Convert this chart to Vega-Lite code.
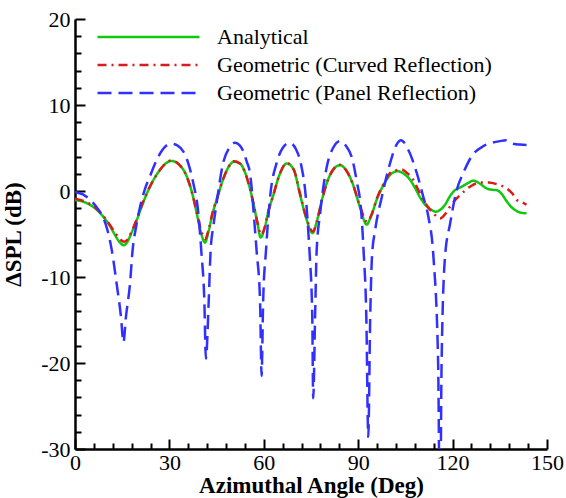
{
  "$schema": "https://vega.github.io/schema/vega-lite/v6.json",
  "width": 472,
  "height": 430,
  "autosize": {"type": "none"},
  "padding": {"left": 75, "top": 19, "right": 19, "bottom": 49},
  "background": "white",
  "config": {
    "view": {"stroke": null},
    "font": "Liberation Serif",
    "axis": {
      "grid": false,
      "domainColor": "black",
      "domainWidth": 2.5,
      "labelFont": "Liberation Serif",
      "labelFontSize": 22,
      "labelColor": "black",
      "titleFont": "Liberation Serif",
      "titleFontSize": 23,
      "titleFontWeight": "bold",
      "titleColor": "black"
    },
    "legend": {
      "labelFont": "Liberation Serif",
      "labelFontSize": 22,
      "labelColor": "black",
      "labelLimit": 0
    }
  },
  "resolve": {"axis": {"x": "independent", "y": "independent"}},
  "layer": [
    {
      "data": {
        "values": [
          {"model": "Analytical", "angle": 0, "dspl": -1.05},
          {"model": "Analytical", "angle": 3, "dspl": -1.3},
          {"model": "Analytical", "angle": 6, "dspl": -1.9},
          {"model": "Analytical", "angle": 9, "dspl": -3.0},
          {"model": "Analytical", "angle": 11, "dspl": -4.0},
          {"model": "Analytical", "angle": 13, "dspl": -5.3},
          {"model": "Analytical", "angle": 14.3, "dspl": -6.0},
          {"model": "Analytical", "angle": 15.4, "dspl": -6.3},
          {"model": "Analytical", "angle": 16.5, "dspl": -6.0},
          {"model": "Analytical", "angle": 17.8, "dspl": -5.0},
          {"model": "Analytical", "angle": 19.6, "dspl": -3.4},
          {"model": "Analytical", "angle": 21.5, "dspl": -1.5},
          {"model": "Analytical", "angle": 23.8, "dspl": 0.5},
          {"model": "Analytical", "angle": 26.5, "dspl": 2.2},
          {"model": "Analytical", "angle": 28.5, "dspl": 3.1},
          {"model": "Analytical", "angle": 30.7, "dspl": 3.5},
          {"model": "Analytical", "angle": 33, "dspl": 3.1},
          {"model": "Analytical", "angle": 35.5, "dspl": 1.7},
          {"model": "Analytical", "angle": 37.2, "dspl": -0.2},
          {"model": "Analytical", "angle": 38.7, "dspl": -2.6},
          {"model": "Analytical", "angle": 40, "dspl": -4.8},
          {"model": "Analytical", "angle": 41.3, "dspl": -6.0},
          {"model": "Analytical", "angle": 42.5, "dspl": -4.6},
          {"model": "Analytical", "angle": 43.8, "dspl": -2.5},
          {"model": "Analytical", "angle": 45, "dspl": -1.05},
          {"model": "Analytical", "angle": 47, "dspl": 1.3},
          {"model": "Analytical", "angle": 48.8, "dspl": 2.8},
          {"model": "Analytical", "angle": 50.5, "dspl": 3.4},
          {"model": "Analytical", "angle": 52.4, "dspl": 3.2},
          {"model": "Analytical", "angle": 54, "dspl": 2.2},
          {"model": "Analytical", "angle": 55.3, "dspl": 0.7},
          {"model": "Analytical", "angle": 56.8, "dspl": -1.6},
          {"model": "Analytical", "angle": 58, "dspl": -3.8},
          {"model": "Analytical", "angle": 59, "dspl": -5.4},
          {"model": "Analytical", "angle": 60.2, "dspl": -4.4},
          {"model": "Analytical", "angle": 61.5, "dspl": -2.3},
          {"model": "Analytical", "angle": 63, "dspl": -0.5},
          {"model": "Analytical", "angle": 65, "dspl": 1.9},
          {"model": "Analytical", "angle": 67.3, "dspl": 3.2},
          {"model": "Analytical", "angle": 69.5, "dspl": 2.5},
          {"model": "Analytical", "angle": 71.5, "dspl": -0.4},
          {"model": "Analytical", "angle": 73.5, "dspl": -3.2},
          {"model": "Analytical", "angle": 75.5, "dspl": -4.9},
          {"model": "Analytical", "angle": 76.8, "dspl": -3.6},
          {"model": "Analytical", "angle": 78.5, "dspl": -1.0},
          {"model": "Analytical", "angle": 80.5, "dspl": 1.4},
          {"model": "Analytical", "angle": 82.3, "dspl": 2.6},
          {"model": "Analytical", "angle": 84.2, "dspl": 3.0},
          {"model": "Analytical", "angle": 86, "dspl": 2.5},
          {"model": "Analytical", "angle": 88.3, "dspl": 0.8},
          {"model": "Analytical", "angle": 90.5, "dspl": -1.8},
          {"model": "Analytical", "angle": 92.7, "dspl": -3.9},
          {"model": "Analytical", "angle": 94, "dspl": -3.0},
          {"model": "Analytical", "angle": 96, "dspl": -0.9},
          {"model": "Analytical", "angle": 98.5, "dspl": 1.0},
          {"model": "Analytical", "angle": 100.5, "dspl": 2.0},
          {"model": "Analytical", "angle": 102.6, "dspl": 2.3},
          {"model": "Analytical", "angle": 104.5, "dspl": 2.0},
          {"model": "Analytical", "angle": 106.5, "dspl": 1.3},
          {"model": "Analytical", "angle": 108, "dspl": 0.4},
          {"model": "Analytical", "angle": 109.6, "dspl": -0.7},
          {"model": "Analytical", "angle": 111.8, "dspl": -1.8},
          {"model": "Analytical", "angle": 113.3, "dspl": -2.2},
          {"model": "Analytical", "angle": 114.7, "dspl": -2.4},
          {"model": "Analytical", "angle": 116, "dspl": -2.2},
          {"model": "Analytical", "angle": 117.6, "dspl": -1.6},
          {"model": "Analytical", "angle": 119, "dspl": -0.7},
          {"model": "Analytical", "angle": 120.2, "dspl": -0.1},
          {"model": "Analytical", "angle": 122.9, "dspl": 0.5},
          {"model": "Analytical", "angle": 124.8, "dspl": 0.9},
          {"model": "Analytical", "angle": 126.6, "dspl": 1.2},
          {"model": "Analytical", "angle": 128.5, "dspl": 0.9},
          {"model": "Analytical", "angle": 130.8, "dspl": 0.3},
          {"model": "Analytical", "angle": 132.5, "dspl": 0.15},
          {"model": "Analytical", "angle": 134, "dspl": 0.1},
          {"model": "Analytical", "angle": 135.5, "dspl": -0.3},
          {"model": "Analytical", "angle": 137.2, "dspl": -1.2},
          {"model": "Analytical", "angle": 138.5, "dspl": -1.8},
          {"model": "Analytical", "angle": 139.8, "dspl": -2.2},
          {"model": "Analytical", "angle": 141.5, "dspl": -2.5},
          {"model": "Analytical", "angle": 143.5, "dspl": -2.6},

          {"model": "Geometric (Curved Reflection)", "angle": 0, "dspl": -0.9},
          {"model": "Geometric (Curved Reflection)", "angle": 3, "dspl": -1.2},
          {"model": "Geometric (Curved Reflection)", "angle": 6, "dspl": -1.8},
          {"model": "Geometric (Curved Reflection)", "angle": 9, "dspl": -2.9},
          {"model": "Geometric (Curved Reflection)", "angle": 11, "dspl": -3.9},
          {"model": "Geometric (Curved Reflection)", "angle": 13, "dspl": -5.0},
          {"model": "Geometric (Curved Reflection)", "angle": 14.3, "dspl": -5.6},
          {"model": "Geometric (Curved Reflection)", "angle": 15.6, "dspl": -5.9},
          {"model": "Geometric (Curved Reflection)", "angle": 16.8, "dspl": -5.6},
          {"model": "Geometric (Curved Reflection)", "angle": 18, "dspl": -4.7},
          {"model": "Geometric (Curved Reflection)", "angle": 19.6, "dspl": -3.3},
          {"model": "Geometric (Curved Reflection)", "angle": 21.5, "dspl": -1.4},
          {"model": "Geometric (Curved Reflection)", "angle": 23.8, "dspl": 0.5},
          {"model": "Geometric (Curved Reflection)", "angle": 26.5, "dspl": 2.2},
          {"model": "Geometric (Curved Reflection)", "angle": 28.5, "dspl": 3.1},
          {"model": "Geometric (Curved Reflection)", "angle": 30.7, "dspl": 3.55},
          {"model": "Geometric (Curved Reflection)", "angle": 33, "dspl": 3.1},
          {"model": "Geometric (Curved Reflection)", "angle": 35.5, "dspl": 1.7},
          {"model": "Geometric (Curved Reflection)", "angle": 37.2, "dspl": -0.2},
          {"model": "Geometric (Curved Reflection)", "angle": 38.7, "dspl": -2.5},
          {"model": "Geometric (Curved Reflection)", "angle": 40, "dspl": -4.5},
          {"model": "Geometric (Curved Reflection)", "angle": 41.4, "dspl": -5.6},
          {"model": "Geometric (Curved Reflection)", "angle": 42.5, "dspl": -4.4},
          {"model": "Geometric (Curved Reflection)", "angle": 43.8, "dspl": -2.4},
          {"model": "Geometric (Curved Reflection)", "angle": 45, "dspl": -1.0},
          {"model": "Geometric (Curved Reflection)", "angle": 47, "dspl": 1.3},
          {"model": "Geometric (Curved Reflection)", "angle": 48.8, "dspl": 2.8},
          {"model": "Geometric (Curved Reflection)", "angle": 50.5, "dspl": 3.45},
          {"model": "Geometric (Curved Reflection)", "angle": 52.4, "dspl": 3.2},
          {"model": "Geometric (Curved Reflection)", "angle": 54, "dspl": 2.2},
          {"model": "Geometric (Curved Reflection)", "angle": 55.3, "dspl": 0.7},
          {"model": "Geometric (Curved Reflection)", "angle": 56.8, "dspl": -1.6},
          {"model": "Geometric (Curved Reflection)", "angle": 58, "dspl": -3.7},
          {"model": "Geometric (Curved Reflection)", "angle": 59.2, "dspl": -5.1},
          {"model": "Geometric (Curved Reflection)", "angle": 60.3, "dspl": -4.2},
          {"model": "Geometric (Curved Reflection)", "angle": 61.5, "dspl": -2.3},
          {"model": "Geometric (Curved Reflection)", "angle": 63, "dspl": -0.5},
          {"model": "Geometric (Curved Reflection)", "angle": 65, "dspl": 1.9},
          {"model": "Geometric (Curved Reflection)", "angle": 67.3, "dspl": 3.25},
          {"model": "Geometric (Curved Reflection)", "angle": 69.5, "dspl": 2.5},
          {"model": "Geometric (Curved Reflection)", "angle": 71.5, "dspl": -0.3},
          {"model": "Geometric (Curved Reflection)", "angle": 73.5, "dspl": -3.1},
          {"model": "Geometric (Curved Reflection)", "angle": 75.6, "dspl": -4.7},
          {"model": "Geometric (Curved Reflection)", "angle": 76.9, "dspl": -3.5},
          {"model": "Geometric (Curved Reflection)", "angle": 78.5, "dspl": -1.0},
          {"model": "Geometric (Curved Reflection)", "angle": 80.5, "dspl": 1.4},
          {"model": "Geometric (Curved Reflection)", "angle": 82.3, "dspl": 2.6},
          {"model": "Geometric (Curved Reflection)", "angle": 84.2, "dspl": 3.05},
          {"model": "Geometric (Curved Reflection)", "angle": 86, "dspl": 2.5},
          {"model": "Geometric (Curved Reflection)", "angle": 88.3, "dspl": 0.8},
          {"model": "Geometric (Curved Reflection)", "angle": 90.5, "dspl": -1.7},
          {"model": "Geometric (Curved Reflection)", "angle": 92.9, "dspl": -3.6},
          {"model": "Geometric (Curved Reflection)", "angle": 94.2, "dspl": -2.8},
          {"model": "Geometric (Curved Reflection)", "angle": 96, "dspl": -0.8},
          {"model": "Geometric (Curved Reflection)", "angle": 98.5, "dspl": 1.1},
          {"model": "Geometric (Curved Reflection)", "angle": 100.5, "dspl": 2.2},
          {"model": "Geometric (Curved Reflection)", "angle": 103.8, "dspl": 2.5},
          {"model": "Geometric (Curved Reflection)", "angle": 105.5, "dspl": 2.1},
          {"model": "Geometric (Curved Reflection)", "angle": 107.5, "dspl": 1.3},
          {"model": "Geometric (Curved Reflection)", "angle": 109, "dspl": 0.2},
          {"model": "Geometric (Curved Reflection)", "angle": 110.7, "dspl": -1.05},
          {"model": "Geometric (Curved Reflection)", "angle": 112.5, "dspl": -2.0},
          {"model": "Geometric (Curved Reflection)", "angle": 113.9, "dspl": -2.6},
          {"model": "Geometric (Curved Reflection)", "angle": 116, "dspl": -3.2},
          {"model": "Geometric (Curved Reflection)", "angle": 117.6, "dspl": -2.7},
          {"model": "Geometric (Curved Reflection)", "angle": 119.2, "dspl": -1.8},
          {"model": "Geometric (Curved Reflection)", "angle": 120.7, "dspl": -1.1},
          {"model": "Geometric (Curved Reflection)", "angle": 122.3, "dspl": -0.5},
          {"model": "Geometric (Curved Reflection)", "angle": 125.5, "dspl": 0.5},
          {"model": "Geometric (Curved Reflection)", "angle": 128.7, "dspl": 1.0},
          {"model": "Geometric (Curved Reflection)", "angle": 131.5, "dspl": 1.0},
          {"model": "Geometric (Curved Reflection)", "angle": 134, "dspl": 0.8},
          {"model": "Geometric (Curved Reflection)", "angle": 137.2, "dspl": 0.3},
          {"model": "Geometric (Curved Reflection)", "angle": 139, "dspl": -0.3},
          {"model": "Geometric (Curved Reflection)", "angle": 140.4, "dspl": -1.05},
          {"model": "Geometric (Curved Reflection)", "angle": 142, "dspl": -1.3},
          {"model": "Geometric (Curved Reflection)", "angle": 143.5, "dspl": -1.6},

          {"model": "Geometric (Panel Reflection)", "angle": 0, "dspl": -0.1},
          {"model": "Geometric (Panel Reflection)", "angle": 2.5, "dspl": -0.4},
          {"model": "Geometric (Panel Reflection)", "angle": 5.3, "dspl": -1.2},
          {"model": "Geometric (Panel Reflection)", "angle": 7.5, "dspl": -2.2},
          {"model": "Geometric (Panel Reflection)", "angle": 9, "dspl": -3.1},
          {"model": "Geometric (Panel Reflection)", "angle": 10.5, "dspl": -4.8},
          {"model": "Geometric (Panel Reflection)", "angle": 11.7, "dspl": -6.9},
          {"model": "Geometric (Panel Reflection)", "angle": 13.2, "dspl": -10.7},
          {"model": "Geometric (Panel Reflection)", "angle": 14.6, "dspl": -14.6},
          {"model": "Geometric (Panel Reflection)", "angle": 15.4, "dspl": -17.6},
          {"model": "Geometric (Panel Reflection)", "angle": 16.2, "dspl": -14.6},
          {"model": "Geometric (Panel Reflection)", "angle": 17.5, "dspl": -10.7},
          {"model": "Geometric (Panel Reflection)", "angle": 18.3, "dspl": -6.9},
          {"model": "Geometric (Panel Reflection)", "angle": 19.5, "dspl": -4.0},
          {"model": "Geometric (Panel Reflection)", "angle": 20.7, "dspl": -1.8},
          {"model": "Geometric (Panel Reflection)", "angle": 22.2, "dspl": 0.2},
          {"model": "Geometric (Panel Reflection)", "angle": 23.8, "dspl": 1.7},
          {"model": "Geometric (Panel Reflection)", "angle": 26.5, "dspl": 4.0},
          {"model": "Geometric (Panel Reflection)", "angle": 28.5, "dspl": 5.1},
          {"model": "Geometric (Panel Reflection)", "angle": 30.5, "dspl": 5.5},
          {"model": "Geometric (Panel Reflection)", "angle": 32.5, "dspl": 5.3},
          {"model": "Geometric (Panel Reflection)", "angle": 35, "dspl": 4.2},
          {"model": "Geometric (Panel Reflection)", "angle": 36.5, "dspl": 2.6},
          {"model": "Geometric (Panel Reflection)", "angle": 37.6, "dspl": 0.9},
          {"model": "Geometric (Panel Reflection)", "angle": 39.2, "dspl": -2.6},
          {"model": "Geometric (Panel Reflection)", "angle": 40.2, "dspl": -7.3},
          {"model": "Geometric (Panel Reflection)", "angle": 41.1, "dspl": -12.7},
          {"model": "Geometric (Panel Reflection)", "angle": 41.6, "dspl": -19.5},
          {"model": "Geometric (Panel Reflection)", "angle": 42.5, "dspl": -12.7},
          {"model": "Geometric (Panel Reflection)", "angle": 43.1, "dspl": -6.9},
          {"model": "Geometric (Panel Reflection)", "angle": 44, "dspl": -4.0},
          {"model": "Geometric (Panel Reflection)", "angle": 45, "dspl": -1.4},
          {"model": "Geometric (Panel Reflection)", "angle": 47.1, "dspl": 3.3},
          {"model": "Geometric (Panel Reflection)", "angle": 49, "dspl": 5.0},
          {"model": "Geometric (Panel Reflection)", "angle": 50.8, "dspl": 5.6},
          {"model": "Geometric (Panel Reflection)", "angle": 52.8, "dspl": 5.1},
          {"model": "Geometric (Panel Reflection)", "angle": 54.6, "dspl": 3.4},
          {"model": "Geometric (Panel Reflection)", "angle": 55.6, "dspl": 2.1},
          {"model": "Geometric (Panel Reflection)", "angle": 57.2, "dspl": -4.5},
          {"model": "Geometric (Panel Reflection)", "angle": 57.7, "dspl": -6.9},
          {"model": "Geometric (Panel Reflection)", "angle": 58.8, "dspl": -12.7},
          {"model": "Geometric (Panel Reflection)", "angle": 59.3, "dspl": -21.5},
          {"model": "Geometric (Panel Reflection)", "angle": 59.8, "dspl": -12.7},
          {"model": "Geometric (Panel Reflection)", "angle": 60.7, "dspl": -6.9},
          {"model": "Geometric (Panel Reflection)", "angle": 62, "dspl": -0.7},
          {"model": "Geometric (Panel Reflection)", "angle": 64.1, "dspl": 3.3},
          {"model": "Geometric (Panel Reflection)", "angle": 66, "dspl": 5.0},
          {"model": "Geometric (Panel Reflection)", "angle": 68.2, "dspl": 5.6},
          {"model": "Geometric (Panel Reflection)", "angle": 70.3, "dspl": 4.8},
          {"model": "Geometric (Panel Reflection)", "angle": 72, "dspl": 2.8},
          {"model": "Geometric (Panel Reflection)", "angle": 73.3, "dspl": -0.5},
          {"model": "Geometric (Panel Reflection)", "angle": 74.1, "dspl": -4.5},
          {"model": "Geometric (Panel Reflection)", "angle": 74.6, "dspl": -7.5},
          {"model": "Geometric (Panel Reflection)", "angle": 75.4, "dspl": -14.6},
          {"model": "Geometric (Panel Reflection)", "angle": 75.7, "dspl": -24.1},
          {"model": "Geometric (Panel Reflection)", "angle": 76.3, "dspl": -14.6},
          {"model": "Geometric (Panel Reflection)", "angle": 76.8, "dspl": -6.9},
          {"model": "Geometric (Panel Reflection)", "angle": 77.9, "dspl": -2.6},
          {"model": "Geometric (Panel Reflection)", "angle": 80, "dspl": 2.8},
          {"model": "Geometric (Panel Reflection)", "angle": 82, "dspl": 5.0},
          {"model": "Geometric (Panel Reflection)", "angle": 84.2, "dspl": 5.8},
          {"model": "Geometric (Panel Reflection)", "angle": 86.2, "dspl": 5.2},
          {"model": "Geometric (Panel Reflection)", "angle": 87.9, "dspl": 4.0},
          {"model": "Geometric (Panel Reflection)", "angle": 89.5, "dspl": 1.2},
          {"model": "Geometric (Panel Reflection)", "angle": 91.0, "dspl": -2.6},
          {"model": "Geometric (Panel Reflection)", "angle": 91.7, "dspl": -6.9},
          {"model": "Geometric (Panel Reflection)", "angle": 92.6, "dspl": -15},
          {"model": "Geometric (Panel Reflection)", "angle": 93.2, "dspl": -28.6},
          {"model": "Geometric (Panel Reflection)", "angle": 93.8, "dspl": -15},
          {"model": "Geometric (Panel Reflection)", "angle": 94.4, "dspl": -7.5},
          {"model": "Geometric (Panel Reflection)", "angle": 95.4, "dspl": -4.5},
          {"model": "Geometric (Panel Reflection)", "angle": 97.5, "dspl": -0.7},
          {"model": "Geometric (Panel Reflection)", "angle": 100.1, "dspl": 3.2},
          {"model": "Geometric (Panel Reflection)", "angle": 102.2, "dspl": 5.4},
          {"model": "Geometric (Panel Reflection)", "angle": 103.6, "dspl": 5.9},
          {"model": "Geometric (Panel Reflection)", "angle": 105.9, "dspl": 4.8},
          {"model": "Geometric (Panel Reflection)", "angle": 108.6, "dspl": 2.1},
          {"model": "Geometric (Panel Reflection)", "angle": 110.7, "dspl": -0.7},
          {"model": "Geometric (Panel Reflection)", "angle": 112.3, "dspl": -3.0},
          {"model": "Geometric (Panel Reflection)", "angle": 113.9, "dspl": -7.6},
          {"model": "Geometric (Panel Reflection)", "angle": 115.4, "dspl": -20},
          {"model": "Geometric (Panel Reflection)", "angle": 116.0, "dspl": -40},
          {"model": "Geometric (Panel Reflection)", "angle": 116.5, "dspl": -20},
          {"model": "Geometric (Panel Reflection)", "angle": 117.6, "dspl": -7.6},
          {"model": "Geometric (Panel Reflection)", "angle": 119.2, "dspl": -3.8},
          {"model": "Geometric (Panel Reflection)", "angle": 121.3, "dspl": 0.1},
          {"model": "Geometric (Panel Reflection)", "angle": 123.4, "dspl": 2.1},
          {"model": "Geometric (Panel Reflection)", "angle": 126, "dspl": 4.0},
          {"model": "Geometric (Panel Reflection)", "angle": 129.7, "dspl": 5.2},
          {"model": "Geometric (Panel Reflection)", "angle": 132.5, "dspl": 5.6},
          {"model": "Geometric (Panel Reflection)", "angle": 135, "dspl": 5.8},
          {"model": "Geometric (Panel Reflection)", "angle": 137, "dspl": 5.9},
          {"model": "Geometric (Panel Reflection)", "angle": 139.3, "dspl": 5.5},
          {"model": "Geometric (Panel Reflection)", "angle": 141.5, "dspl": 5.4},
          {"model": "Geometric (Panel Reflection)", "angle": 143.5, "dspl": 5.35}
        ]
      },
      "mark": {"type": "line", "clip": true, "interpolate": "monotone", "strokeWidth": 2.5},
      "encoding": {
        "x": {
          "field": "angle",
          "type": "quantitative",
          "scale": {"domain": [0, 150], "nice": false, "zero": false},
          "axis": {
            "orient": "bottom",
            "title": "Azimuthal Angle (Deg)",
            "values": [0, 30, 60, 90, 120, 150],
            "labelExpr": "'' + datum.value",
            "ticks": false,
            "labelPadding": 3,
            "labelFlush": false,
            "labelOverlap": false,
            "titlePadding": 1
          }
        },
        "y": {
          "field": "dspl",
          "type": "quantitative",
          "scale": {"domain": [-30, 20], "nice": false, "zero": false},
          "axis": {
            "orient": "left",
            "title": "ΔSPL (dB)",
            "values": [-30, -20, -10, 0, 10, 20],
            "labelExpr": "'' + datum.value",
            "ticks": false,
            "labelPadding": 5,
            "labelFlush": false,
            "labelOverlap": false,
            "titlePadding": 15
          }
        },
        "color": {
          "field": "model",
          "type": "nominal",
          "scale": {
            "domain": ["Analytical", "Geometric (Curved Reflection)", "Geometric (Panel Reflection)"],
            "range": ["#11c811", "#dd1a1a", "#3030ff"]
          },
          "legend": {
            "title": null,
            "orient": "none",
            "legendX": 21,
            "legendY": 4,
            "symbolType": "stroke",
            "symbolSize": 10404,
            "symbolStrokeWidth": 2.5,
            "clipHeight": 28,
            "rowPadding": 0,
            "labelOffset": 16,
            "labelLimit": 0,
            "padding": 0
          }
        },
        "strokeDash": {
          "field": "model",
          "type": "nominal",
          "scale": {
            "domain": ["Analytical", "Geometric (Curved Reflection)", "Geometric (Panel Reflection)"],
            "range": [[1, 0], [9, 5, 2, 5], [14, 7]]
          },
          "legend": {
            "title": null,
            "orient": "none",
            "legendX": 21,
            "legendY": 4,
            "symbolType": "stroke",
            "symbolSize": 10404,
            "symbolStrokeWidth": 2.5,
            "clipHeight": 28,
            "rowPadding": 0,
            "labelOffset": 16,
            "labelLimit": 0,
            "padding": 0
          }
        }
      }
    },
    {
      "data": {"values": [{"angle": 0, "dspl": 0}]},
      "mark": {"type": "point", "opacity": 0},
      "encoding": {
        "x": {
          "field": "angle",
          "type": "quantitative",
          "axis": {
            "orient": "bottom",
            "title": null,
            "values": [0, 30, 60, 90, 120, 150],
            "labels": false,
            "domain": false,
            "ticks": true,
            "tickSize": 10,
            "tickColor": "black",
            "tickWidth": 2,
            "offset": -10
          }
        },
        "y": {
          "field": "dspl",
          "type": "quantitative",
          "axis": {
            "orient": "left",
            "title": null,
            "values": [-30, -20, -10, 0, 10, 20],
            "labels": false,
            "domain": false,
            "ticks": true,
            "tickSize": 10,
            "tickColor": "black",
            "tickWidth": 2,
            "offset": -10
          }
        }
      }
    },
    {
      "data": {"values": [{"angle": 0, "dspl": 0}]},
      "mark": {"type": "point", "opacity": 0},
      "encoding": {
        "x": {
          "field": "angle",
          "type": "quantitative",
          "axis": {
            "orient": "bottom",
            "title": null,
            "values": [6, 12, 18, 24, 36, 42, 48, 54, 66, 72, 78, 84, 96, 102, 108, 114, 126, 132, 138, 144],
            "labels": false,
            "domain": false,
            "ticks": true,
            "tickSize": 6,
            "tickColor": "black",
            "tickWidth": 2,
            "offset": -6
          }
        },
        "y": {
          "field": "dspl",
          "type": "quantitative",
          "axis": {
            "orient": "left",
            "title": null,
            "values": [-28, -26, -24, -22, -18, -16, -14, -12, -8, -6, -4, -2, 2, 4, 6, 8, 12, 14, 16, 18],
            "labels": false,
            "domain": false,
            "ticks": true,
            "tickSize": 6,
            "tickColor": "black",
            "tickWidth": 2,
            "offset": -6
          }
        }
      }
    }
  ]
}
